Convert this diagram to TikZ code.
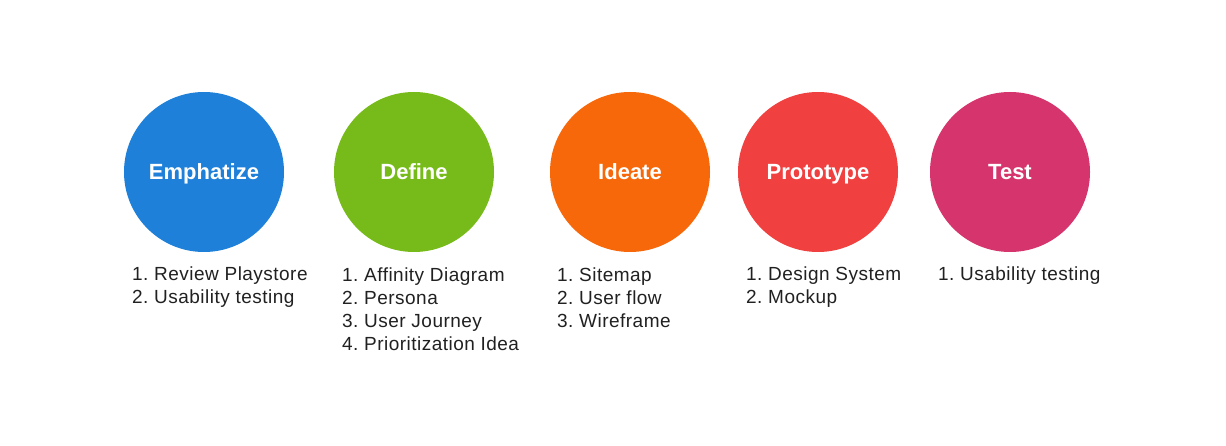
\documentclass[tikz,border=0pt]{standalone}
\usepackage{fontspec}
\setmainfont{Liberation Sans}
\newfontfamily\listfont[LetterSpace=2.5]{Liberation Sans}
\definecolor{cBlue}{HTML}{1E80D8}
\definecolor{cGreen}{HTML}{77BB1A}
\definecolor{cOrange}{HTML}{F7680B}
\definecolor{cRed}{HTML}{F04040}
\definecolor{cPink}{HTML}{D6346D}
\begin{document}
\begin{tikzpicture}[x=1pt,y=1pt,
  phase/.style={circle,fill=#1,draw=none,minimum size=160pt,inner sep=0pt,
    text=white,font=\fontsize{22}{26}\selectfont\bfseries,
    text height=15.8pt,text depth=0pt},
  steps/.style={anchor=base west,inner sep=0pt,align=left,
    text=black!87,font=\listfont\fontsize{19}{23}\selectfont}]
\useasboundingbox (0,0) rectangle (1226,-446);
\fill[white] (0,0) rectangle (1226,-446);
% the five phases
\node[phase=cBlue]   (emp) at (204,-172) {Emphatize};
\node[phase=cGreen]  (def) at (414,-172) {Define};
\node[phase=cOrange] (ide) at (630,-172) {Ideate};
\node[phase=cRed]    (pro) at (818,-172) {Prototype};
\node[phase=cPink]   (tst) at (1010,-172) {Test};
% activities under each phase (placed by the baseline of the last line)
\newcommand{\itm}[2]{#1.\hspace{0.3em}#2}
\node[steps] (empl) at (132,-304) {\itm{1}{Review Playstore}\\\itm{2}{Usability testing}};
\node[steps] (defl) at (342,-350) {\itm{1}{Affinity Diagram}\\\itm{2}{Persona}\\\itm{3}{User Journey}\\\itm{4}{Prioritization Idea}};
\node[steps] (idel) at (557,-327) {\itm{1}{Sitemap}\\\itm{2}{User flow}\\\itm{3}{Wireframe}};
\node[steps] (prol) at (746,-304) {\itm{1}{Design System}\\\itm{2}{Mockup}};
\node[steps] (tstl) at (938,-281) {\itm{1}{Usability testing}};
\end{tikzpicture}
\end{document}
